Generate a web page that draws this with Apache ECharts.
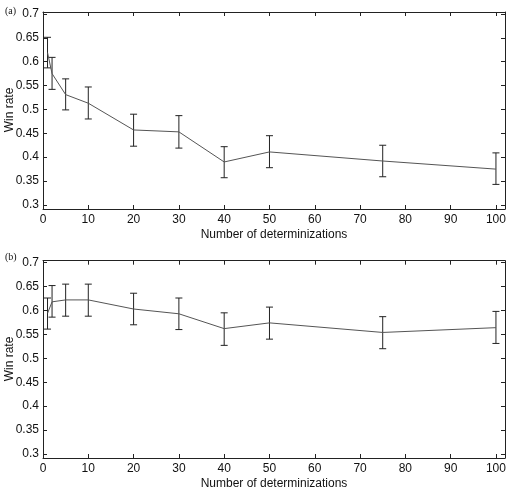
<!DOCTYPE html>
<html>
<head>
<meta charset="utf-8">
<script src="https://cdn.jsdelivr.net/npm/echarts@6/dist/echarts.min.js"></script>
<style>
html,body{margin:0;padding:0;background:#fff;}
#chart{width:528px;height:492px;}
</style>
</head>
<body>
<div id="chart"></div>
<script>
// Data
const xValues = [1, 2, 5, 10, 20, 30, 40, 50, 75, 100];
const meanA = [0.619, 0.575, 0.531, 0.513, 0.457, 0.453, 0.390, 0.411, 0.392, 0.375];
const lowA  = [0.587, 0.542, 0.499, 0.480, 0.423, 0.419, 0.357, 0.378, 0.359, 0.343];
const highA = [0.651, 0.609, 0.564, 0.547, 0.490, 0.487, 0.422, 0.445, 0.425, 0.409];
const meanB = [0.594, 0.618, 0.622, 0.622, 0.603, 0.593, 0.562, 0.574, 0.554, 0.564];
const lowB  = [0.561, 0.586, 0.588, 0.588, 0.570, 0.560, 0.527, 0.540, 0.520, 0.531];
const highB = [0.626, 0.652, 0.655, 0.655, 0.636, 0.626, 0.595, 0.607, 0.587, 0.598];
const xTicks = [0, 10, 20, 30, 40, 50, 60, 70, 80, 90, 100];
const yTicks = [0.3, 0.35, 0.4, 0.45, 0.5, 0.55, 0.6, 0.65, 0.7];
const yTickLabels = ['0.3', '0.35', '0.4', '0.45', '0.5', '0.55', '0.6', '0.65', '0.7'];
const panelLabels = ['(a)', '(b)'];
const xTitle = 'Number of determinizations';
const yTitle = 'Win rate';

const FONT = 'Liberation Sans, Arial, sans-serif';
const AX = '#222';
const XMIN = 0, XMAX = 102, YMIN = 0.2915, YMAX = 0.704;

function xAxisDef(gridIndex, pos, showLabel) {
  return {
    type: 'value', gridIndex: gridIndex, position: pos, min: XMIN, max: XMAX,
    axisLine: {show: true, onZero: false, lineStyle: {color: AX, width: 1}},
    axisTick: {show: true, inside: true, length: 4, customValues: xTicks, lineStyle: {color: AX}},
    axisLabel: {show: showLabel, customValues: xTicks, fontFamily: FONT, fontSize: 12, color: '#111', margin: 5},
    splitLine: {show: false}
  };
}
function yAxisDef(gridIndex, pos, showLabel) {
  return {
    type: 'value', gridIndex: gridIndex, position: pos, min: YMIN, max: YMAX,
    axisLine: {show: true, onZero: false, lineStyle: {color: AX, width: 1}},
    axisTick: {show: true, inside: true, length: 4, customValues: yTicks, lineStyle: {color: AX}},
    axisLabel: {show: showLabel, customValues: yTicks, fontFamily: FONT, fontSize: 12, color: '#111', margin: 4,
      formatter: function (v) { const i = yTicks.findIndex(t => Math.abs(t - v) < 1e-9); return i >= 0 ? yTickLabels[i] : ''; }},
    splitLine: {show: false}
  };
}

function errSeries(xi, yi, lows, highs) {
  return {
    type: 'custom', xAxisIndex: xi, yAxisIndex: yi, clip: true, silent: true,
    data: xValues.map((x, i) => [x, lows[i], highs[i]]),
    renderItem: function (params, api) {
      const x = api.value(0);
      const p1 = api.coord([x, api.value(2)]);
      const p2 = api.coord([x, api.value(1)]);
      const w = 3.5;
      const st = {stroke: '#222', lineWidth: 1};
      return {type: 'group', children: [
        {type: 'line', shape: {x1: p1[0], y1: p1[1], x2: p2[0], y2: p2[1]}, style: st},
        {type: 'line', shape: {x1: p1[0] - w, y1: p1[1], x2: p1[0] + w, y2: p1[1]}, style: st},
        {type: 'line', shape: {x1: p2[0] - w, y1: p2[1], x2: p2[0] + w, y2: p2[1]}, style: st}
      ]};
    }
  };
}
function lineSeries(xi, yi, means) {
  return {
    type: 'line', xAxisIndex: xi, yAxisIndex: yi, symbol: 'none', silent: true,
    data: xValues.map((x, i) => [x, means[i]]),
    lineStyle: {color: '#555', width: 1}
  };
}
function txt(text, x, y, rot) {
  return {type: 'text', x: x, y: y, rotation: rot || 0, silent: true,
    style: {text: text, fontFamily: FONT, fontSize: 12, fill: '#111', align: 'center', verticalAlign: 'middle'}};
}

const chart = echarts.init(document.getElementById('chart'), null, {renderer: 'canvas'});
chart.setOption({
  backgroundColor: '#fff',
  animation: false,
  title: [
    {text: panelLabels[0], left: 0, top: 1, textStyle: {fontFamily: 'Liberation Serif, Times New Roman, serif', fontSize: 10, fontWeight: 'normal', color: '#111'}},
    {text: panelLabels[1], left: 0, top: 247, textStyle: {fontFamily: 'Liberation Serif, Times New Roman, serif', fontSize: 10, fontWeight: 'normal', color: '#111'}}
  ],
  graphic: [
    txt(xTitle, 274, 235), txt(xTitle, 274, 484),
    txt(yTitle, 10, 110, Math.PI / 2), txt(yTitle, 10, 359, Math.PI / 2)
  ],
  grid: [
    {left: 43, right: 23, top: 12, height: 197, containLabel: false, outerBoundsMode: 'none'},
    {left: 43, right: 23, top: 260.7, height: 197.3, containLabel: false, outerBoundsMode: 'none'}
  ],
  xAxis: [
    xAxisDef(0, 'bottom', true), xAxisDef(0, 'top', false),
    xAxisDef(1, 'bottom', true), xAxisDef(1, 'top', false)
  ],
  yAxis: [
    yAxisDef(0, 'left', true), yAxisDef(0, 'right', false),
    yAxisDef(1, 'left', true), yAxisDef(1, 'right', false)
  ],
  series: [
    lineSeries(0, 0, meanA), errSeries(0, 0, lowA, highA),
    lineSeries(2, 2, meanB), errSeries(2, 2, lowB, highB)
  ]
});
</script>
</body>
</html>
